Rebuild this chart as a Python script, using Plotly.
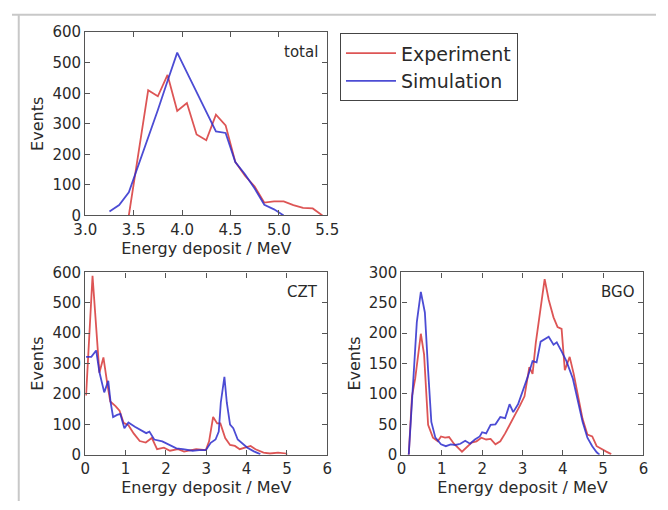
import plotly.graph_objects as go

# ---------------- data ----------------
# total
tot_exp_x = [3.45, 3.55, 3.65, 3.75, 3.85, 3.95, 4.05, 4.15, 4.25, 4.35, 4.45,
             4.55, 4.65, 4.75, 4.85, 4.95, 5.05, 5.15, 5.25, 5.35, 5.45]
tot_exp_y = [0, 210, 410, 390, 460, 342, 368, 265, 246, 330, 295,
             175, 130, 95, 42, 46, 46, 34, 25, 23, 0]
tot_sim_x = [3.25, 3.35, 3.45, 3.55, 3.65, 3.75, 3.85, 3.95, 4.05, 4.15,
             4.25, 4.35, 4.45, 4.55, 4.65, 4.75, 4.85, 4.95, 5.05]
tot_sim_y = [13, 34, 76, 165, 255, 345, 440, 533, 468, 404,
             339, 275, 270, 175, 135, 88, 35, 20, 0]

# CZT
czt_exp_x = [0.02, 0.18, 0.35, 0.45, 0.55, 0.62, 0.75, 0.85, 0.95, 1.07, 1.2,
             1.35, 1.5, 1.65, 1.78, 1.95, 2.1, 2.3, 2.45, 2.6, 2.75, 2.99,
             3.07, 3.17, 3.27, 3.35, 3.47, 3.59, 3.71, 3.83, 3.94, 4.1, 4.22,
             4.42, 4.58, 4.78, 4.98, 5.0]
czt_exp_y = [195, 589, 270, 320, 230, 175, 160, 145, 105, 97, 70,
             45, 40, 55, 18, 23, 13, 18, 10, 13, 18, 15,
             44, 124, 103, 103, 55, 32, 29, 18, 23, 29, 18,
             7, 4, 7, 4, 0]
czt_sim_x = [0.02, 0.15, 0.27, 0.35, 0.47, 0.57, 0.63, 0.69, 0.79, 0.87, 0.97,
             1.07, 1.23, 1.39, 1.51, 1.59, 1.71, 1.91, 2.07, 2.26, 2.42, 2.66,
             2.82, 2.99, 3.11, 3.23, 3.31, 3.36, 3.45, 3.51, 3.59, 3.67, 3.78,
             3.9, 4.02, 4.18, 4.34]
czt_sim_y = [322, 322, 343, 272, 205, 243, 171, 124, 131, 134, 87,
             106, 92, 81, 71, 76, 50, 44, 34, 21, 18, 13,
             15, 15, 39, 50, 76, 171, 256, 171, 99, 87, 50,
             36, 23, 11, 2]

# BGO
bgo_exp_x = [0.18, 0.26, 0.34, 0.48, 0.56, 0.66, 0.78, 0.9, 0.98, 1.08, 1.18,
             1.3, 1.5, 1.62, 1.74, 1.86, 1.98, 2.1, 2.21, 2.33, 2.45, 2.57,
             2.69, 2.81, 2.93, 3.05, 3.17, 3.25, 3.33, 3.45, 3.55, 3.65, 3.77,
             3.87, 3.97, 4.05, 4.17, 4.27, 4.37, 4.49, 4.61, 4.73, 4.84, 4.96,
             5.08, 5.2]
bgo_exp_y = [0, 96, 125, 199, 165, 49, 28, 22, 30, 28, 29,
             18, 5, 12, 20, 22, 28, 25, 26, 17, 22, 35,
             49, 65, 80, 96, 144, 133, 184, 239, 289, 255, 226,
             210, 207, 139, 161, 133, 99, 59, 33, 30, 14, 9,
             5, 1]
bgo_sim_x = [0.18, 0.26, 0.38, 0.48, 0.58, 0.66, 0.74, 0.84, 0.98, 1.1, 1.22,
             1.34, 1.46, 1.58, 1.7, 1.82, 1.94, 2.0, 2.1, 2.21, 2.33, 2.45,
             2.57, 2.68, 2.77, 2.89, 3.01, 3.13, 3.25, 3.35, 3.45, 3.55, 3.65,
             3.77, 3.85, 3.97, 4.09, 4.25, 4.37, 4.49, 4.61, 4.73, 4.84, 4.91]
bgo_sim_y = [0, 86, 218, 268, 234, 139, 54, 28, 17, 14, 17,
             16, 18, 23, 18, 25, 30, 37, 35, 49, 50, 62,
             60, 83, 70, 83, 104, 128, 154, 152, 186, 190, 194,
             181, 185, 170, 154, 125, 91, 54, 28, 14, 4, 0]

labels = ["Experiment", "Simulation"]
panel_names = ["total", "CZT", "BGO"]
x_title = "Energy deposit / MeV"
y_title = "Events"

# ---------------- style ----------------
W, H = 668, 510
RED = "rgba(215,55,55,0.85)"
BLUE = "rgba(45,45,205,0.85)"
FONT = "DejaVu Sans"
TXT = "#2a2a2a"
AX = "#555555"

def px(x):
    return x / W

def py(y):
    return 1 - y / H

fig = go.Figure()

panels = [
    ("x", "y", tot_exp_x, tot_exp_y, tot_sim_x, tot_sim_y, True),
    ("x2", "y2", czt_exp_x, czt_exp_y, czt_sim_x, czt_sim_y, False),
    ("x3", "y3", bgo_exp_x, bgo_exp_y, bgo_sim_x, bgo_sim_y, False),
]
for xa, ya, ex, ey, sx, sy, leg in panels:
    fig.add_trace(go.Scatter(x=ex, y=ey, mode="lines", name=labels[0],
                             line=dict(color=RED, width=1.8), xaxis=xa, yaxis=ya,
                             showlegend=leg, legendrank=1))
    fig.add_trace(go.Scatter(x=sx, y=sy, mode="lines", name=labels[1],
                             line=dict(color=BLUE, width=1.8), xaxis=xa, yaxis=ya,
                             showlegend=leg, legendrank=2))

def axis_common():
    return dict(showline=True, mirror="allticks", linecolor=AX, linewidth=1.3,
                ticks="inside", ticklen=5, tickcolor=AX, tickwidth=1,
                showgrid=False, zeroline=False,
                tickfont=dict(family=FONT, size=15, color=TXT),
                title_font=dict(family=FONT, size=16, color=TXT))

xdom_l = [px(76), px(327)]
xdom_r = [px(404), px(655)]
ydom_t = [py(214), py(24)]
ydom_b = [py(462), py(273)]

fig.update_layout(
    width=W, height=H,
    margin=dict(l=0, r=0, t=0, b=0),
    paper_bgcolor="white", plot_bgcolor="white",
    xaxis=dict(domain=xdom_l, anchor="y", range=[3.0, 5.5], dtick=0.5,
               tickformat=".1f", title=dict(text=x_title, standoff=2),
               **axis_common()),
    yaxis=dict(domain=ydom_t, anchor="x", range=[0, 600], dtick=100,
               title=dict(text=y_title, standoff=4), **axis_common()),
    xaxis2=dict(domain=xdom_l, anchor="y2", range=[0, 6], dtick=1,
                title=dict(text=x_title, standoff=2), **axis_common()),
    yaxis2=dict(domain=ydom_b, anchor="x2", range=[0, 600], dtick=100,
                title=dict(text=y_title, standoff=4), **axis_common()),
    xaxis3=dict(domain=xdom_r, anchor="y3", range=[0, 6], dtick=1,
                title=dict(text=x_title, standoff=2), **axis_common()),
    yaxis3=dict(domain=ydom_b, anchor="x3", range=[0, 300], dtick=50,
                title=dict(text=y_title, standoff=4), **axis_common()),
    legend=dict(x=px(340), y=py(25), xanchor="left", yanchor="top",
                bordercolor="#444444", borderwidth=1.2, bgcolor="white",
                font=dict(family=FONT, size=19, color=TXT),
                itemwidth=50, tracegroupgap=0),
)

# panel labels
for name, xr, yr in [(panel_names[0], "x domain", "y domain"),
                     (panel_names[1], "x2 domain", "y2 domain"),
                     (panel_names[2], "x3 domain", "y3 domain")]:
    fig.add_annotation(text=name, xref=xr, yref=yr, x=0.97, y=0.95,
                       xanchor="right", yanchor="top", showarrow=False,
                       font=dict(family=FONT, size=15, color=TXT))

# outer frame (top and left grey lines)
fig.add_shape(type="line", xref="paper", yref="paper", x0=0, x1=1,
              y0=py(6), y1=py(6), line=dict(color="#c8c8c8", width=2))
fig.add_shape(type="line", xref="paper", yref="paper", x0=px(7), x1=px(7),
              y0=py(6), y1=0, line=dict(color="#c8c8c8", width=2))

fig.write_html("out.html")
